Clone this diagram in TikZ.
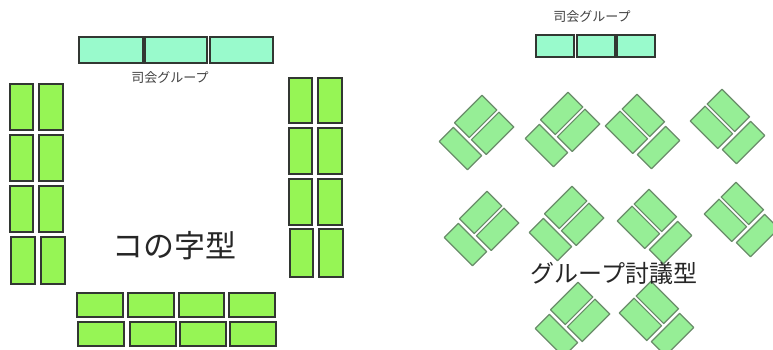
\documentclass[tikz,border=0pt]{standalone}
\usepackage{fontspec}
\newfontfamily\jp{Noto Sans CJK JP}
\definecolor{mint}{RGB}{153,250,204}
\definecolor{lime}{RGB}{150,245,85}
\definecolor{dgreen}{RGB}{150,238,150}
\definecolor{dborder}{RGB}{105,140,105}
\definecolor{tborder}{RGB}{50,55,50}
\tikzset{
  minttable/.style={draw=tborder, fill=mint, line width=1.1pt},
  limetable/.style={draw=tborder, fill=lime, line width=1.1pt},
  diamtable/.style={draw=dborder, fill=dgreen, line width=1.2pt, line join=round},
  grpA/.pic={
    \begin{scope}[rotate=45]
      \draw[diamtable] (-32,-20) rectangle (-12,20);
      \draw[diamtable] (-8,-22.5) rectangle (31,-1.5);
      \draw[diamtable] (-8,1.5) rectangle (31,22.5);
    \end{scope}
  },
  grpB/.pic={
    \begin{scope}[rotate=45]
      \draw[diamtable] (-20,12) rectangle (20,32);
      \draw[diamtable] (1.5,-31) rectangle (22.5,8);
      \draw[diamtable] (-22.5,-31) rectangle (-1.5,8);
    \end{scope}
  },
  smalllabel/.style={font=\jp\fontsize{13}{13}\selectfont, text=black!75, inner sep=0pt},
  biglabel/.style={font=\jp\fontsize{31}{31}\selectfont, text=black!85, inner sep=0pt},
  midlabel/.style={font=\jp\fontsize{24}{24}\selectfont, text=black!85, inner sep=0pt}
}
\begin{document}
\begin{tikzpicture}[x=1pt,y=-1pt]
\useasboundingbox (0,0) rectangle (773,349);
\fill[white] (0,0) rectangle (773,349);
% ---- left layout ----
\draw[minttable] (79,37) rectangle (143,63);
\draw[minttable] (145,37) rectangle (207,63);
\draw[minttable] (210,37) rectangle (273,63);
\node[smalllabel] (lhost) at (170,78) {司会グループ};
% left columns
\foreach \ya/\yb in {84/130,135/181,186/232}{
  \draw[limetable] (10,\ya) rectangle (33,\yb);
  \draw[limetable] (39,\ya) rectangle (63,\yb);
}
\draw[limetable] (11,237) rectangle (35,284);
\draw[limetable] (41,237) rectangle (65,284);
% right columns
\foreach \ya/\yb in {78/123,128/174,179/225}{
  \draw[limetable] (289,\ya) rectangle (312,\yb);
  \draw[limetable] (318,\ya) rectangle (342,\yb);
}
\draw[limetable] (290,229) rectangle (313,277);
\draw[limetable] (319,229) rectangle (343,277);
% bottom rows
\foreach \xa/\xb in {77/123,128/174,179/224,229/275}{
  \draw[limetable] (\xa,293) rectangle (\xb,317);
}
\foreach \xa/\xb in {78/124,130/176,180/226,230/276}{
  \draw[limetable] (\xa,322) rectangle (\xb,346);
}
\node[biglabel] (ltitle) at (174,246) {コの字型};
% ---- right layout ----
\node[smalllabel] (rhost) at (592,17) {司会グループ};
\draw[minttable] (536,35) rectangle (574,57);
\draw[minttable] (577,35) rectangle (615,57);
\draw[minttable] (617,35) rectangle (655,57);
\pic at (476,133) {grpA};
\pic at (562,130) {grpA};
\pic at (643,132) {grpB};
\pic at (728,127) {grpB};
\pic at (481,229) {grpA};
\pic at (566,224) {grpA};
\pic at (655,227) {grpB};
\pic at (742,220) {grpB};
\pic at (572,320) {grpA};
\pic at (657,319) {grpB};
\node[midlabel] (rtitle) at (614,273) {グループ討議型};
\end{tikzpicture}
\end{document}
